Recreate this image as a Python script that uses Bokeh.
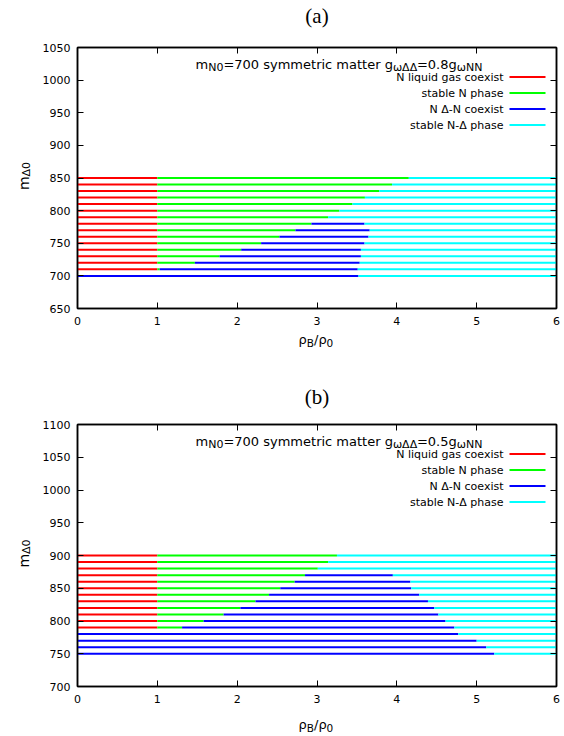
import math

from bokeh.embed import file_html
from bokeh.layouts import column
from bokeh.models import (ColumnDataSource, CustomJSTickFormatter, Label,
                          LinearAxis, Range1d, SingleIntervalTicker)
from bokeh.plotting import figure
from bokeh.resources import INLINE

# ---------------------------------------------------------------- data ----
# Phase boundaries along rho_B/rho_0 for each Delta bare mass m_Delta0.
# lg_end   : upper edge of the N liquid-gas coexistence region (0 = absent)
# n_end    : upper edge of the stable N phase
# coex_end : upper edge of the N / Delta-N coexistence region
RHO_MAX = 6.0

mass_a = [700, 710, 720, 730, 740, 750, 760, 770,
          780, 790, 800, 810, 820, 830, 840, 850]
lg_end_a = [0, 1, 1, 1, 1, 1, 1, 1, 1, 1, 1, 1, 1, 1, 1, 1]
n_end_a = [0, 1.03, 1.47, 1.78, 2.05, 2.30, 2.53, 2.73,
           2.93, 3.14, 3.28, 3.445, 3.60, 3.78, 3.94, 4.15]
coex_end_a = [3.52, 3.51, 3.535, 3.55, 3.55, 3.595, 3.645, 3.66,
              3.595, 3.14, 3.28, 3.445, 3.60, 3.78, 3.94, 4.15]

mass_b = [750, 760, 770, 780, 790, 800, 810, 820,
          830, 840, 850, 860, 870, 880, 890, 900]
lg_end_b = [0, 0, 0, 0, 1, 1, 1, 1, 1, 1, 1, 1, 1, 1, 1, 1]
n_end_b = [0, 0, 0, 0, 1.31, 1.58, 1.83, 2.04,
           2.23, 2.40, 2.54, 2.72, 2.85, 3.01, 3.14, 3.25]
coex_end_b = [5.22, 5.12, 5.00, 4.77, 4.72, 4.61, 4.52, 4.47,
              4.39, 4.28, 4.18, 4.17, 3.95, 3.01, 3.14, 3.25]

phase_names = ["N liquid gas coexist", "stable N phase",
               "N \u0394-N coexist", "stable N-\u0394 phase"]
phase_colors = ["#ff0000", "#00ff00", "#0000ff", "#00ffff"]

x_ticks_step = 1
y_ticks_step = 50

# -------------------------------------------------------------- layout ----
FIG_W = 564
BORDER_L = 77
BORDER_R = 8
FRAME_W = FIG_W - BORDER_L - BORDER_R
FONT = "DejaVu Sans"
SERIF = "Liberation Serif"


def data_x(dx):
    # pixel offset from the frame's left edge -> rho_B/rho_0
    return dx * RHO_MAX / FRAME_W


def add_text(p, text, x, y, size, font=FONT, align="left",
             baseline="alphabetic", angle=0.0, side="center"):
    p.add_layout(Label(x=x, y=y, text=text, text_font=font,
                       text_font_size=size, text_align=align,
                       text_baseline=baseline, text_color="black",
                       angle=angle), side)


def add_rho_title(p, y_main, y_sub, side):
    # rho_B / rho_0, built from runs so the indices sit lower and smaller
    add_text(p, "\u03c1", data_x(221), y_main, "13px", side=side)
    add_text(p, "B", data_x(229.3), y_sub, "10.5px", side=side)
    add_text(p, "/\u03c1", data_x(236.5), y_main, "13px", side=side)
    add_text(p, "0", data_x(249.1), y_sub, "10.5px", side=side)


def make_panel(letter, letter_dy, coupling, masses, lg_end, n_end, coex_end,
               y_lo, y_hi, height, top, bottom, own_rho_title):
    p = figure(width=FIG_W, height=height, output_backend="svg",
               toolbar_location=None,
               x_range=Range1d(0, RHO_MAX), y_range=Range1d(y_lo, y_hi),
               min_border_left=BORDER_L, min_border_right=BORDER_R,
               min_border_top=top, min_border_bottom=bottom)
    p.xgrid.visible = False
    p.ygrid.visible = False
    p.outline_line_color = "black"
    p.outline_line_width = 1.5
    p.background_fill_color = "white"
    p.border_fill_color = "white"

    blank = CustomJSTickFormatter(code="return ''")
    p.add_layout(LinearAxis(formatter=blank), "above")
    p.add_layout(LinearAxis(formatter=blank), "right")
    for ax in p.xaxis:
        ax.ticker = SingleIntervalTicker(interval=x_ticks_step, num_minor_ticks=0)
        ax.major_label_standoff = 8
    for ax in p.yaxis:
        ax.ticker = SingleIntervalTicker(interval=y_ticks_step, num_minor_ticks=0)
        ax.major_label_standoff = 7
    for ax in p.xaxis + p.yaxis:
        ax.major_tick_in = 6
        ax.major_tick_out = 0
        ax.minor_tick_in = 0
        ax.minor_tick_out = 0
        ax.axis_line_width = 1.5
        ax.major_tick_line_width = 1
        ax.major_label_text_font = FONT
        ax.major_label_text_font_size = "11px"
        ax.major_label_text_color = "black"

    # one horizontal segment per phase and per mass
    for k in range(4):
        x0, x1, yy = [], [], []
        for m, a, b, c in zip(masses, lg_end, n_end, coex_end):
            edges = [0.0, a, b, c, RHO_MAX]
            lo = max(edges[:k + 1])
            hi = edges[k + 1]
            if hi > lo:
                x0.append(lo)
                x1.append(hi)
                yy.append(m)
        src = ColumnDataSource(dict(x0=x0, x1=x1, y=yy))
        p.segment(x0="x0", y0="y", x1="x1", y1="y", source=src,
                  line_color=phase_colors[k], line_width=2)

    frame_h = height - top - bottom

    def data_y(dy):
        # pixel offset from the frame's top edge -> m_Delta0
        return y_hi - dy * (y_hi - y_lo) / frame_h

    # panel letter
    add_text(p, letter, data_x(FRAME_W / 2), data_y(letter_dy), "21px",
             font=SERIF, align="center", baseline="middle", side="above")

    # heading with subscripts
    main, sub = "13px", "11px"
    hb = 16.5
    runs = [("m", 118, main, hb), ("N0", 130.7, sub, hb + 3),
            ("=700 symmetric matter g", 145.9, main, hb),
            ("\u03c9\u0394\u0394", 315.4, sub, hb + 3),
            ("=" + coupling + "g", 339.4, main, hb),
            ("\u03c9NN", 379.2, sub, hb + 3)]
    for text, dx, size, dy in runs:
        add_text(p, text, data_x(dx), data_y(dy), size)

    # key: label on the left, line sample on the right
    for k, dy in enumerate([29.5, 45.5, 61.5, 77.5]):
        add_text(p, phase_names[k], data_x(426), data_y(dy), "11px",
                 align="right", baseline="middle")
        p.segment(x0=[data_x(432)], y0=[data_y(dy)], x1=[data_x(468)],
                  y1=[data_y(dy)], line_color=phase_colors[k], line_width=2)

    if own_rho_title:
        add_rho_title(p, data_y(frame_h + 31), data_y(frame_h + 34), "below")

    # y axis title: m_Delta0, rotated; the index is lowered (shifted right)
    cy = frame_h / 2
    add_text(p, "m", data_x(-54), data_y(cy + 12), "14px",
             angle=math.pi / 2, side="left")
    add_text(p, "\u03940", data_x(-51), data_y(cy - 1.5), "11px",
             angle=math.pi / 2, side="left")
    return p


pa = make_panel("(a)", -32, "0.8", mass_a, lg_end_a, n_end_a, coex_end_a,
                650, 1050, 378, 47, 70, True)
pb = make_panel("(b)", -28, "0.5", mass_b, lg_end_b, n_end_b, coex_end_b,
                700, 1100, 330, 46, 22, False)

# strip under panel (b) carrying its x axis title
STRIP_H = 28
strip = figure(width=FIG_W, height=STRIP_H, output_backend="svg",
               toolbar_location=None, x_axis_type=None, y_axis_type=None,
               x_range=Range1d(0, RHO_MAX), y_range=Range1d(STRIP_H, 0),
               min_border_left=BORDER_L, min_border_right=BORDER_R,
               min_border_top=0, min_border_bottom=0)
strip.outline_line_color = None
strip.xgrid.visible = False
strip.ygrid.visible = False
strip.background_fill_color = "white"
strip.border_fill_color = "white"
add_rho_title(strip, 16, 19, "center")

layout = column(pa, pb, strip, spacing=0)
open("out.html", "w").write(file_html(layout, INLINE))
